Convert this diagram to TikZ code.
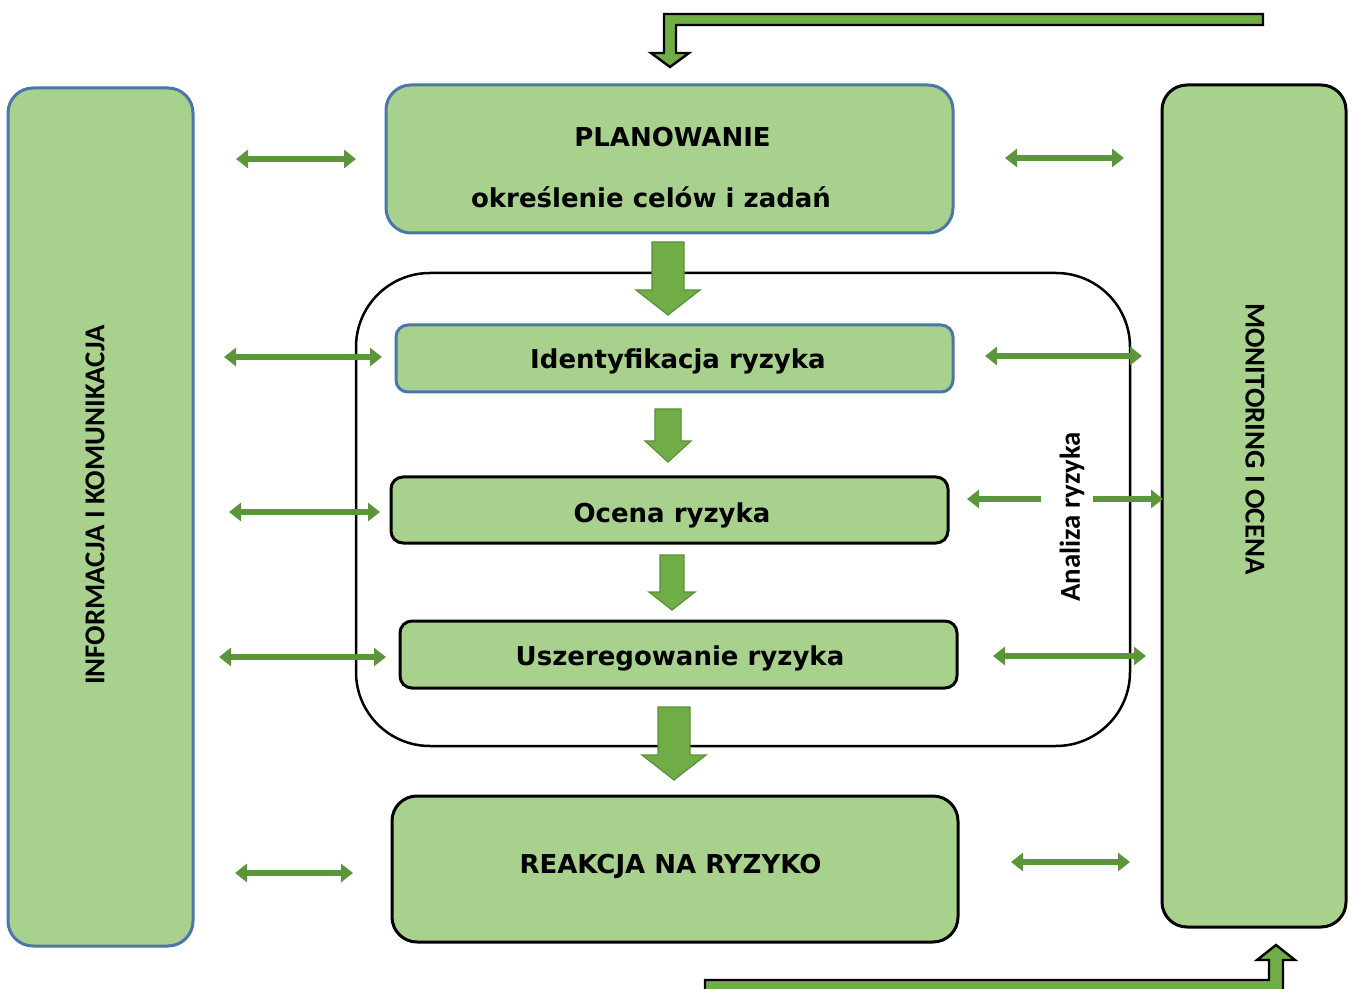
\documentclass[tikz,border=0pt]{standalone}
\usepackage{fontspec}
\setmainfont{DejaVu Sans}
\newfontfamily\calfont{Carlito}
\usetikzlibrary{arrows.meta}
\definecolor{boxfill}{HTML}{A9D18E}
\definecolor{boxblue}{HTML}{4A76A8}
\definecolor{arrfill}{HTML}{70AD47}
\definecolor{arrline}{HTML}{5A8F3A}
\definecolor{dblcol}{HTML}{5B963A}
\tikzset{
  gbox/.style={draw=boxblue, line width=1.5pt, fill=boxfill, rectangle, inner sep=0pt},
  kbox/.style={draw=black, line width=1.5pt, fill=boxfill, rectangle, inner sep=0pt},
  boxtext/.style={font=\fontsize{13}{15}\selectfont\bfseries, text=black, inner sep=0pt},
  sidetext/.style={font=\calfont\bfseries\fontsize{14.4}{17}\selectfont, text=black, inner sep=0pt},
  blockarrow/.style={fill=arrfill, draw=arrline, line width=0.6pt, line join=miter},
  bentarrow/.style={fill=arrfill, draw=black, line width=1.2pt, line join=miter},
  dblarr/.style={draw=dblcol, line width=2.8pt, {Triangle[length=6pt,width=9pt]}-{Triangle[length=6pt,width=9pt]}},
  sglarr/.style={draw=dblcol, line width=2.8pt, -{Triangle[length=6pt,width=9pt]}},
}
\newcommand{\mkblockdown}[6]{%
  \filldraw[blockarrow] (#1-#4,#2) -- (#1+#4,#2) -- (#1+#4,#6) -- (#1+#5,#6) -- (#1,#3) -- (#1-#5,#6) -- (#1-#4,#6) -- cycle;}
\newcommand{\mkharr}[5]{%
  \coordinate (#1a) at (#2,#4); \coordinate (#1b) at (#3,#4);
  \draw[#5] (#1a) -- (#1b);}
\begin{document}
\begin{tikzpicture}[x=0.5pt,y=-0.5pt]
\clip (0,0) rectangle (1355,989);
\fill[white] (0,0) rectangle (1355,989);

% side boxes
\node[gbox, rounded corners=12.5pt, minimum width=92.5pt, minimum height=429pt] (info) at (100.5,517) {};
\node[sidetext, rotate=90] (infotext) at (95,505) {INFORMACJA I KOMUNIKACJA};
\node[kbox, rounded corners=12.5pt, minimum width=92pt, minimum height=421pt] (mon) at (1254,506) {};
\node[sidetext, rotate=-90] (montext) at (1255,439) {MONITORING I OCENA};

% analysis outline
\node[draw=black, line width=1.25pt, rounded corners=37pt, minimum width=387pt, minimum height=236.5pt, inner sep=0pt] (analysis) at (743,509.5) {};
\node[sidetext, rotate=90] (analizatext) at (1072,517) {Analiza ryzyka};

% main boxes
\node[gbox, rounded corners=12.5pt, minimum width=283.5pt, minimum height=74pt] (plan) at (669.5,159) {};
\node[boxtext] (plantitle) at (672.5,137) {PLANOWANIE};
\node[boxtext] (plansub) at (651,197) {określenie celów i zadań};
\node[gbox, rounded corners=6pt, minimum width=278.5pt, minimum height=33.5pt] (ident) at (674.5,358.5) {};
\node[boxtext] (identtext) at (678,361) {Identyfikacja ryzyka};
\node[kbox, rounded corners=6pt, minimum width=278.5pt, minimum height=33pt] (ocena) at (669.5,510) {};
\node[boxtext] (ocenatext) at (672,515) {Ocena ryzyka};
\node[kbox, rounded corners=6pt, minimum width=278.5pt, minimum height=33.5pt] (usz) at (678.5,654.5) {};
\node[boxtext] (usztext) at (680,658) {Uszeregowanie ryzyka};
\node[kbox, rounded corners=12.5pt, minimum width=283pt, minimum height=73pt] (reak) at (675,869) {};
\node[boxtext] (reaktext) at (670.5,866) {REAKCJA NA RYZYKO};

% block arrows down
\mkblockdown{668}{242}{315}{16}{32}{290}
\mkblockdown{668}{409}{462}{13}{23}{441}
\mkblockdown{672}{555}{610}{12}{23}{592}
\mkblockdown{674}{707}{780}{16}{32}{755}

% bent arrows
\filldraw[bentarrow] (1263,14) -- (664,14) -- (664,53) -- (651,53) -- (670,67) -- (689,53) -- (676,53) -- (676,25) -- (1263,25) -- cycle;
\filldraw[bentarrow] (705,1000) -- (705,980) -- (1269,980) -- (1269,960) -- (1257,960) -- (1276,945) -- (1295,960) -- (1283,960) -- (1283,1000) -- cycle;

% double arrows left
\mkharr{la}{236}{356}{159}{dblarr}
\mkharr{lb}{224}{382}{357}{dblarr}
\mkharr{lc}{229}{380}{512}{dblarr}
\mkharr{ld}{219}{386}{657}{dblarr}
\mkharr{le}{235}{353}{873}{dblarr}
% double arrows right
\mkharr{ra}{1005}{1124}{158}{dblarr}
\mkharr{rb}{985}{1142}{356}{dblarr}
\mkharr{rc}{1041}{967}{499}{sglarr}
\mkharr{rd}{1093}{1163}{499}{sglarr}
\mkharr{re}{993}{1146}{656}{dblarr}
\mkharr{rf}{1011}{1130}{862}{dblarr}
\end{tikzpicture}
\end{document}
